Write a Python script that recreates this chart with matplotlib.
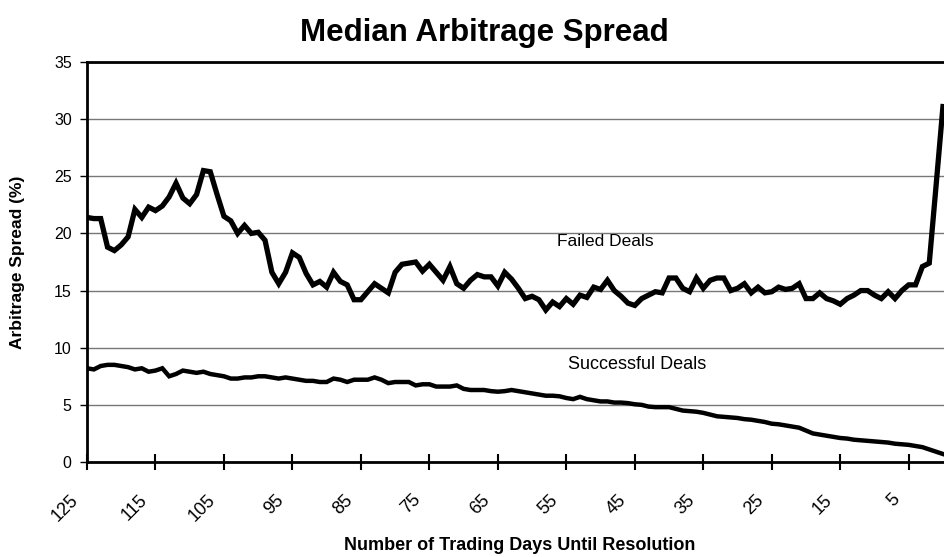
import matplotlib
matplotlib.use("Agg")
import matplotlib.pyplot as plt
import matplotlib.transforms as mtransforms
import numpy as np

plt.rcParams['font.family'] = ['Liberation Sans', 'DejaVu Sans']

# trading days until resolution, 125 down to 0
days = np.arange(125, -1, -1)

failed = [21.4, 21.3, 21.3, 18.8, 18.5, 19.0, 19.7, 22.1, 21.4, 22.3, 22.0, 22.4, 23.2, 24.4,
          23.1, 22.6, 23.4, 25.5, 25.4, 23.4, 21.5, 21.1, 20.0, 20.7, 20.0, 20.1, 19.4, 16.6,
          15.6, 16.6, 18.3, 17.9, 16.5,
          15.5, 15.8, 15.3, 16.6, 15.8, 15.5, 14.2, 14.2, 14.9, 15.6, 15.2, 14.8, 16.6, 17.3,
          17.4, 17.5, 16.7, 17.3, 16.6, 15.9, 17.1, 15.6, 15.2, 15.9, 16.4, 16.2, 16.2, 15.4,
          16.6, 16.0, 15.2,
          14.3, 14.5, 14.2, 13.3, 14.0, 13.6, 14.3, 13.8, 14.6, 14.4, 15.3, 15.1, 15.9, 15.0,
          14.5, 13.9, 13.7, 14.3, 14.6, 14.9, 14.8, 16.1, 16.1, 15.2, 14.9, 16.1, 15.2, 15.9,
          16.1, 16.1, 15.0, 15.2,
          15.6, 14.8, 15.3, 14.8, 14.9, 15.3, 15.1, 15.2, 15.6, 14.3, 14.3, 14.8, 14.3, 14.1,
          13.8, 14.3, 14.6, 15.0, 15.0, 14.6, 14.3, 14.9, 14.3, 15.0, 15.5, 15.5, 17.1, 17.4,
          24.2, 31.1]

successful = [8.2, 8.1, 8.4, 8.5, 8.5, 8.4, 8.3, 8.1, 8.2, 7.9, 8.0, 8.2, 7.5, 7.7, 8.0, 7.9,
              7.8, 7.9, 7.7, 7.6, 7.5, 7.3, 7.3, 7.4, 7.4, 7.5, 7.5, 7.4, 7.3, 7.4, 7.3, 7.2,
              7.1, 7.1, 7.0, 7.0, 7.3, 7.2, 7.0, 7.2, 7.2, 7.2, 7.4, 7.2, 6.9, 7.0, 7.0, 7.0,
              6.7, 6.8, 6.8, 6.6, 6.6, 6.6, 6.7, 6.4, 6.3, 6.3, 6.3, 6.2, 6.15, 6.2, 6.3, 6.2,
              6.1, 6.0, 5.9, 5.8, 5.8, 5.75, 5.6, 5.5, 5.7, 5.5, 5.4, 5.3, 5.3, 5.2, 5.2, 5.15,
              5.05, 5.0, 4.85, 4.8, 4.8, 4.8, 4.65, 4.5, 4.45, 4.4, 4.3, 4.15, 4.0, 3.95, 3.9,
              3.85, 3.75, 3.7, 3.6, 3.5, 3.35, 3.3, 3.2, 3.1, 3.0, 2.75, 2.5, 2.4, 2.3, 2.2,
              2.1, 2.05, 1.95, 1.9, 1.85, 1.8, 1.75, 1.7, 1.6, 1.55, 1.5, 1.4, 1.3, 1.1, 0.9, 0.7]

x_ticks = list(range(125, 0, -10))
y_ticks = list(range(0, 36, 5))

fig = plt.figure(figsize=(9.45, 5.57), dpi=100)
ax = fig.add_axes([87 / 945, 1 - 462 / 557, 858 / 945, 400 / 557])

ax.plot(days, failed, color='black', lw=3.8, solid_joinstyle='miter')
ax.plot(days, successful, color='black', lw=3.2, solid_joinstyle='miter')

ax.set_xlim(125, -0.3)
ax.set_ylim(0, 35)
ax.set_yticks(y_ticks)
ax.set_xticks(x_ticks)
ax.set_xticklabels([str(t) for t in x_ticks], rotation=45, ha='right', va='top', fontsize=13)
ax.tick_params(axis='x', direction='inout', length=12, width=1.5, pad=15)
ax.tick_params(axis='y', direction='out', length=5, width=1, labelsize=11.5, pad=6)

# nudge rotated labels left like the original
offset = mtransforms.ScaledTranslation(-5 / 100, 0, fig.dpi_scale_trans)
for lbl in ax.get_xticklabels():
    lbl.set_transform(lbl.get_transform() + offset)

ax.yaxis.grid(True, color='#777777', lw=1.0)
ax.set_axisbelow(True)
for side in ['left', 'top', 'bottom']:
    ax.spines[side].set_linewidth(2.0)
ax.spines['right'].set_visible(False)

ax.text(56.4, 19.3, 'Failed Deals', fontsize=12.5, va='center', ha='left')
ax.text(54.8, 8.5, 'Successful Deals', fontsize=13, va='center', ha='left')

fig.text(0.513, 1 - 33 / 557, 'Median Arbitrage Spread', fontsize=22.5, fontweight='bold',
         ha='center', va='center')
fig.text(18 / 945, 1 - 262 / 557, 'Arbitrage Spread (%)', fontsize=12.5, fontweight='bold',
         rotation=90, ha='center', va='center')
fig.text(520 / 945, 1 - 545 / 557, 'Number of Trading Days Until Resolution', fontsize=13,
         fontweight='bold', ha='center', va='center')

fig.savefig('out.png', dpi=100)
